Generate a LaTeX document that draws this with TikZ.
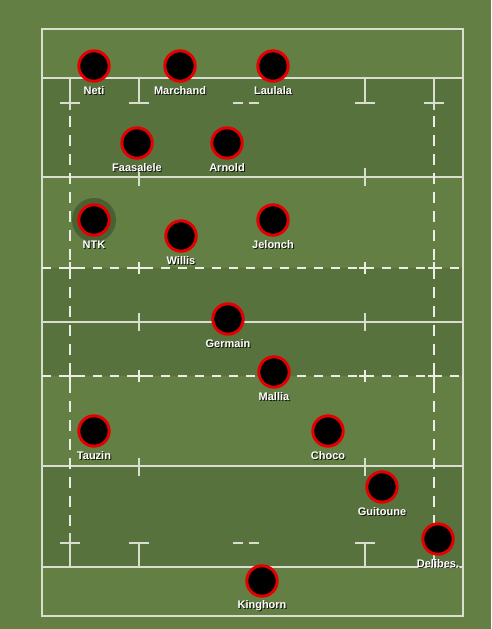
\documentclass[tikz,border=0pt]{standalone}
\usepackage{fontspec}
\setmainfont{Liberation Sans}
\usetikzlibrary{shadows}
\definecolor{grass}{RGB}{99,127,67}
\definecolor{grassdark}{RGB}{88,114,62}
\definecolor{chalk}{RGB}{218,222,206}
\definecolor{chalkbright}{RGB}{236,238,228}
\definecolor{ring}{RGB}{228,0,0}
\begin{document}
\begin{tikzpicture}[
  x=1pt,y=-1pt,
  font=\fontsize{11}{13}\selectfont\bfseries,
  band/.style={fill=grassdark},
  pitchline/.style={draw=chalk,line width=1.4pt},
  tenline/.style={draw=chalkbright,line width=1.4pt,dash pattern=on 9pt off 8pt},
  fiveline/.style={draw=chalkbright,line width=1.4pt,dash pattern=on 11pt off 8pt},
  player/.style={circle,draw=ring,fill=black,line width=3pt,inner sep=0pt,
                 minimum size=30.4pt,
                 drop shadow={shadow xshift=1pt,shadow yshift=-1pt,opacity=.35}},
  halo/.style={circle,fill=black,fill opacity=.25,inner sep=0pt,minimum size=44pt},
  tag/.style={text=white,inner sep=0pt},
  tagshadow/.style={text=black,text opacity=.8,inner sep=0pt},
]

% ---- grass and darker bands ----
\fill[grass] (0,0) rectangle (491,629);
\useasboundingbox (0,0) rectangle (491,629);
\fill[band] (42,78) rectangle (463,177);
\fill[band] (42,268) rectangle (463,376);
\fill[band] (42,466) rectangle (463,567);

% ---- full lines ----
\draw[pitchline] (42,29) rectangle (463,616);
\foreach \ly in {78,177,322,466,567}
  \draw[pitchline] (42,\ly) -- (463,\ly);

% ---- 10 m lines ----
\foreach \ly in {268,376}{
  \draw[tenline] (42,\ly) -- (463,\ly);
  \foreach \lx in {70,139,365,434}{
    \draw[pitchline,draw=chalkbright] (\lx,\ly-6) -- (\lx,\ly+6);
    \draw[pitchline,draw=chalkbright] (\lx-6,\ly) -- (\lx+6,\ly);
  }
}

% ---- 5 m lines along the touch ----
\foreach \lx in {70,434}{
  \draw[pitchline] (\lx,78) -- (\lx,110);
  \draw[fiveline] (\lx,116) -- (\lx,530);
  \draw[pitchline] (\lx,533) -- (\lx,567);
}

% ---- 5 m lines in front of the posts ----
\foreach \ly/\ty in {103/78,543/567}{
  \foreach \lx in {70,434}
    \draw[pitchline] (\lx-10,\ly) -- (\lx+10,\ly);
  \foreach \lx in {139,365}{
    \draw[pitchline] (\lx-10,\ly) -- (\lx+10,\ly);
    \draw[pitchline] (\lx,\ly) -- (\lx,\ty);
  }
  \draw[pitchline] (233,\ly) -- (243,\ly);
  \draw[pitchline] (249,\ly) -- (259,\ly);
}

% ---- ticks on the 22 m and halfway lines ----
\foreach \ly in {177,322,467}
  \foreach \lx in {139,365}
    \draw[pitchline] (\lx,\ly-9) -- (\lx,\ly+9);

% ---- players ----
\node[halo] (ntkhalo) at (94,220) {};
\foreach \nm/\px/\py/\txt in {
    neti/94/66/Neti, marchand/180/66/Marchand, laulala/273/66/Laulala,
    faasalele/137/143/Faasalele, arnold/227/143/Arnold,
    ntk/94/220/NTK, willis/181/236/Willis, jelonch/273/220/Jelonch,
    germain/228/319/Germain, mallia/274/372/Mallia,
    tauzin/94/431/Tauzin, choco/328/431/Choco,
    guitoune/382/487/Guitoune, delibes/438/539/Delibes.,
    kinghorn/262/581/Kinghorn}{
  \node[player] (p-\nm) at (\px,\py) {};
  \node[tagshadow] (s-\nm) at (\px+1,\py+26) {\txt};
  \node[tag] (t-\nm) at (\px,\py+25) {\txt};
}

\end{tikzpicture}
\end{document}
